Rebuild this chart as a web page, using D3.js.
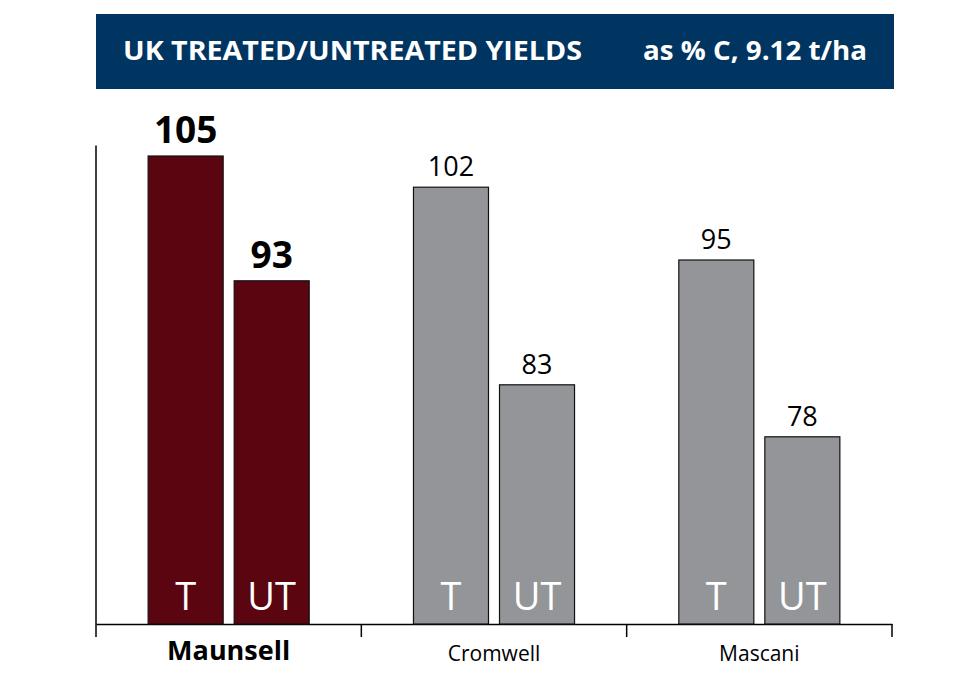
<!DOCTYPE html>
<html>
<head>
<meta charset="utf-8">
<script src="https://cdn.jsdelivr.net/npm/d3@7"></script>
<style>
  html, body { margin: 0; padding: 0; background: #fff; }
  svg { display: block; }
  text { font-family: "Open Sans", "Noto Sans", sans-serif; }
</style>
</head>
<body>
<svg id="chart" width="980" height="700"></svg>
<script>
// ---- data ----
const varieties = ["Maunsell", "Cromwell", "Mascani"];
const treatments = ["T", "UT"];
const treatedValues = [105, 102, 95];
const untreatedValues = [93, 83, 78];
const titleLeft = "UK TREATED/UNTREATED YIELDS";
const titleRight = "as % C, 9.12 t/ha";
const highlight = "Maunsell";

const rows = varieties.map((v, i) => ({
  variety: v,
  bars: [
    { variety: v, treatment: treatments[0], value: treatedValues[i] },
    { variety: v, treatment: treatments[1], value: untreatedValues[i] }
  ]
}));

const svg = d3.select("#chart");
const navy = "#003562";
const maroon = "#5a0510";
const grey = "#939598";

// ---- title bar ----
svg.append("rect")
  .attr("x", 96).attr("y", 14).attr("width", 798).attr("height", 75)
  .attr("fill", navy);
svg.append("text")
  .attr("x", 123).attr("y", 60)
  .attr("fill", "#fff").attr("font-weight", 700).attr("font-size", 27.5)
  .attr("textLength", 459).attr("lengthAdjust", "spacingAndGlyphs")
  .text(titleLeft);
svg.append("text")
  .attr("x", 643).attr("y", 60)
  .attr("fill", "#fff").attr("font-weight", 700).attr("font-size", 27.5)
  .attr("textLength", 224).attr("lengthAdjust", "spacingAndGlyphs")
  .text(titleRight);

// ---- scales ----
const x0 = d3.scaleBand().domain(varieties).range([96, 892]).padding(0);
const x1 = d3.scaleBand().domain(treatments).range([0, x0.bandwidth()])
  .paddingInner(0.128).paddingOuter(0.606);
const y = d3.scaleLinear().domain([60, 105]).range([624, 156]);

// ---- axes ----
const g = svg.append("g");
g.append("line")
  .attr("x1", 96).attr("x2", 96)
  .attr("y1", y(106)).attr("y2", y(60))
  .attr("stroke", "#000").attr("stroke-width", 1.5);

const xAxis = d3.axisBottom(x0).tickSize(0).tickFormat("");
const ax = svg.append("g").attr("transform", `translate(0,${y(60)})`).call(xAxis);
ax.select(".domain").attr("stroke", "#000").attr("stroke-width", 1.5);
// boundary ticks between groups
const boundaries = varieties.map(v => x0(v)).concat([x0.range()[1]]);
ax.selectAll(".bound").data(boundaries).enter().append("line")
  .attr("class", "bound")
  .attr("x1", d => d).attr("x2", d => d)
  .attr("y1", 0).attr("y2", 13)
  .attr("stroke", "#000").attr("stroke-width", 1.5);

// category labels
ax.selectAll(".cat").data(varieties).enter().append("text")
  .attr("class", "cat")
  .attr("x", d => x0(d) + x0.bandwidth() / 2)
  .attr("y", d => d === highlight ? 36 : 37)
  .attr("text-anchor", "middle")
  .attr("fill", "#000")
  .attr("font-weight", d => d === highlight ? 700 : 400)
  .attr("font-size", d => d === highlight ? 27 : 21)
  .text(d => d);

// ---- bars ----
const groups = svg.selectAll(".grp").data(rows).enter().append("g")
  .attr("class", "grp")
  .attr("transform", d => `translate(${x0(d.variety)},0)`);

groups.selectAll("rect").data(d => d.bars).enter().append("rect")
  .attr("x", d => x1(d.treatment))
  .attr("y", d => y(d.value))
  .attr("width", x1.bandwidth())
  .attr("height", d => y(60) - y(d.value))
  .attr("fill", d => d.variety === highlight ? maroon : grey)
  .attr("stroke", "#111").attr("stroke-width", 1.2);

// value labels
groups.selectAll(".val").data(d => d.bars).enter().append("text")
  .attr("class", "val")
  .attr("x", d => x1(d.treatment) + x1.bandwidth() / 2)
  .attr("y", d => y(d.value) - (d.variety === highlight ? 13 : 11))
  .attr("text-anchor", "middle")
  .attr("fill", "#000")
  .attr("font-weight", d => d.variety === highlight ? 700 : 400)
  .attr("font-size", d => d.variety === highlight ? 37 : 27)
  .text(d => d.value);

// treatment labels inside bars
groups.selectAll(".tr").data(d => d.bars).enter().append("text")
  .attr("class", "tr")
  .attr("x", d => x1(d.treatment) + x1.bandwidth() / 2)
  .attr("y", 610)
  .attr("text-anchor", "middle")
  .attr("fill", "#fff")
  .attr("font-size", 38)
  .text(d => d.treatment);
</script>
</body>
</html>
